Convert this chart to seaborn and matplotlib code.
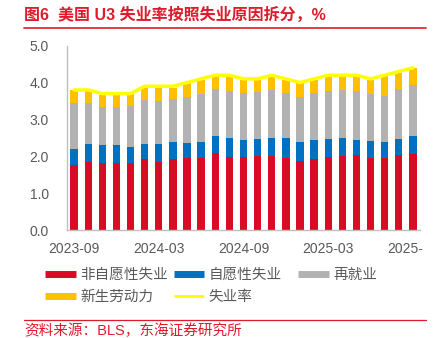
import numpy as np
import pandas as pd
import matplotlib
matplotlib.use("Agg")
import matplotlib.pyplot as plt
import seaborn as sns
from matplotlib.lines import Line2D
from matplotlib.transforms import Bbox

# Monthly decomposition of the U3 unemployment rate by reason (percentage points)
months = ["2023-09", "2023-10", "2023-11", "2023-12", "2024-01", "2024-02", "2024-03",
          "2024-04", "2024-05", "2024-06", "2024-07", "2024-08", "2024-09", "2024-10",
          "2024-11", "2024-12", "2025-01", "2025-02", "2025-03", "2025-04", "2025-05",
          "2025-06", "2025-07", "2025-08", "2025-09"]
tick_labels = ["2023-09", "2024-03", "2024-09", "2025-03", "2025-09"]

involuntary = [1.75, 1.85, 1.81, 1.81, 1.81, 1.92, 1.84, 1.92, 1.94, 1.94, 2.08, 1.99, 1.97,
               2.00, 2.01, 1.94, 1.87, 1.93, 1.97, 2.01, 2.03, 1.94, 1.94, 2.03, 2.07]
voluntary = [0.46, 0.47, 0.49, 0.49, 0.45, 0.42, 0.48, 0.47, 0.43, 0.46, 0.48, 0.51, 0.48,
             0.47, 0.49, 0.56, 0.53, 0.51, 0.51, 0.49, 0.40, 0.48, 0.46, 0.45, 0.49]
reentrants = [1.24, 1.12, 1.05, 1.04, 1.10, 1.18, 1.17, 1.16, 1.23, 1.28, 1.26, 1.27, 1.26,
              1.27, 1.29, 1.22, 1.22, 1.27, 1.29, 1.29, 1.34, 1.26, 1.24, 1.35, 1.37]
new_entrants = [0.35, 0.32, 0.31, 0.32, 0.32, 0.34, 0.37, 0.31, 0.38, 0.39, 0.36, 0.40, 0.36,
                0.33, 0.39, 0.35, 0.36, 0.36, 0.40, 0.38, 0.40, 0.39, 0.53, 0.44, 0.46]
unemployment_rate = [3.8, 3.8, 3.7, 3.7, 3.7, 3.9, 3.9, 3.9, 4.0, 4.1, 4.2, 4.2, 4.1, 4.1,
                     4.2, 4.1, 4.0, 4.1, 4.2, 4.2, 4.2, 4.1, 4.2, 4.3, 4.4]

RED = "#D80C24"
BLUE = "#0070C0"
GRAY = "#B2B2B2"
ORANGE = "#FFC000"
YELLOW = "#FFFF00"
TITLE_RED = "#DE1A2B"
TEXT_GRAY = "#595959"
AXIS_GRAY = "#BFBFBF"

df = pd.DataFrame({
    "month": months,
    "非自愿性失业": involuntary,
    "自愿性失业": voluntary,
    "再就业": reentrants,
    "新生劳动力": new_entrants,
})
df["c1"] = df["非自愿性失业"]
df["c2"] = df["c1"] + df["自愿性失业"]
df["c3"] = df["c2"] + df["再就业"]
df["c4"] = df["c3"] + df["新生劳动力"]

sns.set_style("white")
plt.rcParams["font.family"] = ["Liberation Sans", "Noto Sans CJK SC", "DejaVu Sans"]
CJK = ["Noto Sans CJK SC", "DejaVu Sans"]

fig = plt.figure(figsize=(4.42, 3.38), dpi=100)
ax = fig.add_axes([67 / 442, 108 / 338, 353 / 442, 184.3 / 338])

# stacked bars drawn as overlapping cumulative totals, tallest first
for col, color in [("c4", ORANGE), ("c3", GRAY), ("c2", BLUE), ("c1", RED)]:
    sns.barplot(data=df, x="month", y=col, color=color, saturation=1, width=0.52,
                errorbar=None, ax=ax, linewidth=0)

sns.lineplot(x=np.arange(len(months)), y=unemployment_rate, color=YELLOW, linewidth=2.5,
             ax=ax, zorder=5)

ax.set_xlim(-0.5, len(months) - 0.5)
ax.set_ylim(0, 5)
ax.set_xlabel("")
ax.set_ylabel("")
ax.set_yticks(np.arange(0, 5.01, 1.0))
ax.set_yticklabels([f"{v:.1f}" for v in np.arange(0, 5.01, 1.0)])
ax.set_xticks([months.index(t) for t in tick_labels], labels=tick_labels)
ax.set_xticks(np.array([months.index(t) for t in tick_labels]) - 0.5, minor=True)
ax.tick_params(axis="x", which="major", length=0, pad=8.5, labelsize=10, labelcolor=TEXT_GRAY)
ax.tick_params(axis="x", which="minor", length=4, width=1, color=AXIS_GRAY, direction="out")
ax.tick_params(axis="y", which="major", length=4, width=1, color=AXIS_GRAY, direction="out",
               labelsize=10, labelcolor=TEXT_GRAY, pad=9)
for side in ["top", "right"]:
    ax.spines[side].set_visible(False)
for side in ["left", "bottom"]:
    ax.spines[side].set_color(AXIS_GRAY)
    ax.spines[side].set_linewidth(1)

# the last date label runs past the chart frame and is cut off there
last = ax.get_xticklabels()[-1]
last.set_clip_on(True)
last.set_clip_box(Bbox.from_extents(0, 0, 423, 338))


def bar_handle(color):
    return Line2D([], [], color=color, lw=5, solid_capstyle="butt")


legend_kw = dict(loc="upper left", frameon=False, borderpad=0, borderaxespad=0,
                 handlelength=2.1, handletextpad=0.3, labelspacing=0.55,
                 prop={"family": CJK, "size": 10.5}, labelcolor=TEXT_GRAY)

# first two legend columns (filled column by column)
fig.legend([bar_handle(RED), bar_handle(ORANGE), bar_handle(BLUE),
            Line2D([], [], color=YELLOW, lw=2, solid_capstyle="butt")],
           ["非自愿性失业", "新生劳动力", "自愿性失业", "失业率"],
           bbox_to_anchor=(45 / 442, 1 - 268 / 338), ncol=2, columnspacing=0.4,
           **legend_kw)
# third legend column
fig.legend([bar_handle(GRAY)], ["再就业"],
           bbox_to_anchor=(298 / 442, 1 - 268 / 338), **legend_kw)

fig.text(24 / 442, 1 - 15 / 338, "图6  美国 U3 失业率按照失业原因拆分，%", color=TITLE_RED,
         fontsize=11.5, fontweight="bold", va="center", ha="left",
         family=["Liberation Sans", "Noto Sans CJK SC"])
fig.add_artist(Line2D([24 / 442, 426 / 442], [1 - 28.3 / 338] * 2, transform=fig.transFigure,
                      color=TITLE_RED, lw=1.2))
fig.add_artist(Line2D([24 / 442, 426 / 442], [1 - 320 / 338] * 2, transform=fig.transFigure,
                      color=TITLE_RED, lw=0.9))
fig.text(24 / 442, 1 - 330.5 / 338, "资料来源：BLS，东海证券研究所", color=TITLE_RED,
         fontsize=10.5, va="center", ha="left", family=["Liberation Sans", "Noto Sans CJK SC"])

fig.savefig("out.png", dpi=100)
